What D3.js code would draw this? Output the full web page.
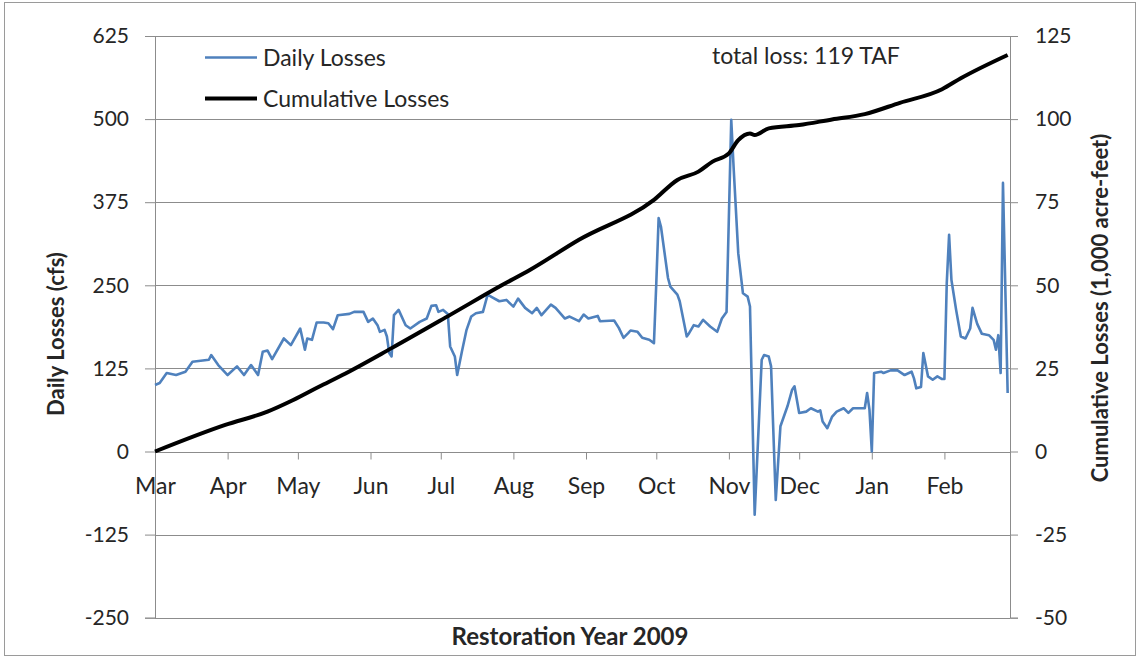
<!DOCTYPE html>
<html>
<head>
<meta charset="utf-8">
<script src="https://cdn.jsdelivr.net/npm/d3@7/dist/d3.min.js"></script>
<style>
  html, body { margin: 0; padding: 0; background: #fff; }
  svg { display: block; }
  text { font-family: Lato, "Open Sans", sans-serif; fill: #262626; }
</style>
</head>
<body>
<svg id="chart" width="1140" height="659"></svg>
<script>
// ---- Data ----
const monthLabels = ["Mar","Apr","May","Jun","Jul","Aug","Sep","Oct","Nov","Dec","Jan","Feb"];
const leftTicks = [-250, -125, 0, 125, 250, 375, 500, 625];
const rightTicks = [-50, -25, 0, 25, 50, 75, 100, 125];

// Daily losses (cfs)
const dailyDates = [
 "2009-03-01","2009-03-03","2009-03-06","2009-03-10","2009-03-14","2009-03-17","2009-03-24","2009-03-25","2009-03-28",
 "2009-04-01","2009-04-05","2009-04-08","2009-04-11","2009-04-14","2009-04-16","2009-04-18","2009-04-20","2009-04-25","2009-04-28",
 "2009-05-02","2009-05-04","2009-05-05","2009-05-07","2009-05-09","2009-05-12","2009-05-14","2009-05-16","2009-05-18","2009-05-23","2009-05-25","2009-05-29","2009-05-31",
 "2009-06-02","2009-06-04","2009-06-05","2009-06-07","2009-06-08","2009-06-09","2009-06-10","2009-06-11","2009-06-13","2009-06-16","2009-06-18","2009-06-22","2009-06-25","2009-06-27","2009-06-29","2009-06-30",
 "2009-07-02","2009-07-04","2009-07-05","2009-07-07","2009-07-08","2009-07-10","2009-07-12","2009-07-14","2009-07-16","2009-07-19","2009-07-21","2009-07-23","2009-07-26","2009-07-29",
 "2009-08-01","2009-08-03","2009-08-06","2009-08-09","2009-08-11","2009-08-13","2009-08-17","2009-08-19","2009-08-23","2009-08-25","2009-08-29","2009-08-31",
 "2009-09-02","2009-09-06","2009-09-07","2009-09-13","2009-09-15","2009-09-17","2009-09-19","2009-09-20","2009-09-23","2009-09-25","2009-09-28","2009-09-30",
 "2009-10-01","2009-10-02","2009-10-03","2009-10-06","2009-10-07","2009-10-10","2009-10-11","2009-10-14","2009-10-15","2009-10-17","2009-10-19","2009-10-21","2009-10-24","2009-10-27","2009-10-29","2009-10-31",
 "2009-11-02","2009-11-03","2009-11-05","2009-11-07","2009-11-09","2009-11-10","2009-11-12","2009-11-15","2009-11-16","2009-11-18","2009-11-19","2009-11-21","2009-11-23","2009-11-26","2009-11-28","2009-11-29",
 "2009-12-01","2009-12-04","2009-12-06","2009-12-09","2009-12-10","2009-12-11","2009-12-13","2009-12-15","2009-12-17","2009-12-20","2009-12-22","2009-12-24","2009-12-27","2009-12-29","2009-12-30","2009-12-31",
 "2010-01-01","2010-01-02","2010-01-05","2010-01-06","2010-01-09","2010-01-12","2010-01-15","2010-01-18","2010-01-19","2010-01-20","2010-01-22","2010-01-23","2010-01-25","2010-01-27","2010-01-29","2010-01-31",
 "2010-02-01","2010-02-02","2010-02-03","2010-02-04","2010-02-06","2010-02-08","2010-02-10","2010-02-12","2010-02-13","2010-02-15","2010-02-17","2010-02-20","2010-02-22","2010-02-23","2010-02-24","2010-02-25","2010-02-26","2010-02-28"
];
const dailyValues = [
 100,103,118,115,120,135,138,145,130,
 115,128,115,130,115,150,152,139,170,160,
 185,153,170,168,194,194,193,184,205,207,210,210,195,
 200,190,180,183,173,148,143,205,213,190,185,195,200,219,220,210,
 213,207,158,143,115,150,183,203,208,210,236,232,226,228,
 218,230,216,208,216,205,221,216,200,203,196,206,
 200,204,196,197,186,171,178,182,180,171,168,163,
 253,351,338,261,248,236,226,173,178,190,188,198,188,180,200,210,
 499,428,298,238,233,218,-95,138,145,143,128,-73,38,68,93,98,
 58,60,65,60,62,45,35,52,60,65,58,65,65,65,88,63,
 0,118,120,118,122,122,115,120,110,95,97,148,113,108,113,109,
 109,253,326,258,213,173,170,185,216,192,177,175,168,153,175,118,404,88
];

// Cumulative losses (1,000 acre-feet)
const cumDates = [
 "2009-03-01","2009-03-31","2009-04-18","2009-04-29","2009-05-10","2009-05-20","2009-06-10","2009-07-05","2009-07-27",
 "2009-08-08","2009-08-29","2009-09-30","2009-10-10","2009-10-19","2009-10-25","2009-11-01","2009-11-05","2009-11-10",
 "2009-11-12","2009-11-18","2009-12-01","2009-12-15","2009-12-29","2010-01-13","2010-01-31","2010-02-08","2010-02-28"
];
const cumValues = [
 0, 8.0, 12, 15.5, 19.5, 23, 31.1, 41.1, 50,
 54.6, 63.7, 75.7, 81.7, 84.2, 87.2, 89.7, 93.7, 95.7,
 95.2, 97.2, 98.2, 99.9, 101.5, 104.9, 109, 112.3, 119.3
];

// ---- Layout ----
const svg = d3.select("#chart");
const L = 155, R = 1010, T = 36, B = 617.7;
const parse = d3.timeParse("%Y-%m-%d");

const x = d3.scaleTime().domain([new Date(2009, 2, 1), new Date(2010, 2, 1)]).range([L, R]);
const yL = d3.scaleLinear().domain([-250, 625]).range([B, T]);
const yR = d3.scaleLinear().domain([-50, 125]).range([B, T]);

const grid = "#8c8c8c";

// outer frame
svg.append("rect").attr("x", 4.5).attr("y", 2.5).attr("width", 1131).attr("height", 653)
  .attr("fill", "none").attr("stroke", "#9a9a9a").attr("stroke-width", 1);

// gridlines
svg.append("g").selectAll("line").data(leftTicks).join("line")
  .attr("x1", L).attr("x2", R)
  .attr("y1", d => Math.round(yL(d)) + 0.5).attr("y2", d => Math.round(yL(d)) + 0.5)
  .attr("stroke", grid).attr("stroke-width", 1);

// left axis
const axL = d3.axisLeft(yL).tickValues(leftTicks).tickSize(10).tickPadding(16).tickFormat(d => String(d));
const gL = svg.append("g").attr("transform", `translate(${L},0)`).call(axL);
// right axis
const axR = d3.axisRight(yR).tickValues(rightTicks).tickSize(8).tickPadding(17).tickFormat(d => String(d));
const gR = svg.append("g").attr("transform", `translate(${R},0)`).call(axR);

[gL, gR].forEach(g => {
  g.select(".domain").attr("stroke", grid);
  g.selectAll(".tick line").attr("stroke", grid);
  g.selectAll(".tick text").attr("font-size", 21).attr("font-family", "Lato, sans-serif").attr("fill", "#262626");
});

// bottom (month) axis along zero line
const monthDates = d3.timeMonth.range(new Date(2009, 2, 1), new Date(2010, 2, 1));
const axB = d3.axisBottom(x).tickValues(monthDates).tickSize(7).tickPadding(18)
  .tickFormat((d, i) => monthLabels[i]);
const gB = svg.append("g").attr("transform", `translate(0,${Math.round(yL(0)) + 0.5})`).call(axB);
gB.select(".domain").attr("stroke", grid).attr("d", `M${L},0H${R}`);
gB.selectAll(".tick line").attr("stroke", grid);
gB.selectAll(".tick text").attr("font-size", 23).attr("font-family", "Lato, sans-serif").attr("fill", "#262626");

// daily losses line
const daily = dailyDates.map((d, i) => ({ date: parse(d), v: dailyValues[i] }));
svg.append("path").datum(daily)
  .attr("fill", "none").attr("stroke", "#4f81bd").attr("stroke-width", 2.6)
  .attr("stroke-linejoin", "round")
  .attr("d", d3.line().x(d => x(d.date)).y(d => yL(d.v)));

// cumulative line
const cum = cumDates.map((d, i) => ({ date: parse(d), v: cumValues[i] }));
svg.append("path").datum(cum)
  .attr("fill", "none").attr("stroke", "#000").attr("stroke-width", 4)
  .attr("stroke-linejoin", "round")
  .attr("d", d3.line().curve(d3.curveMonotoneX).x(d => x(d.date)).y(d => yR(d.v)));

// legend
const leg = svg.append("g");
leg.append("line").attr("x1", 205).attr("x2", 257).attr("y1", 57.5).attr("y2", 57.5)
  .attr("stroke", "#4f81bd").attr("stroke-width", 2.6);
leg.append("text").attr("x", 263).attr("y", 65.5).attr("font-size", 23).text("Daily Losses");
leg.append("line").attr("x1", 205).attr("x2", 257).attr("y1", 98.5).attr("y2", 98.5)
  .attr("stroke", "#000").attr("stroke-width", 4);
leg.append("text").attr("x", 263).attr("y", 106.5).attr("font-size", 23).text("Cumulative Losses");

// annotation
svg.append("text").attr("x", 712).attr("y", 64).attr("font-size", 23).text("total loss: 119 TAF");

// axis titles
svg.append("text").attr("transform", "translate(64,334) rotate(-90)")
  .attr("text-anchor", "middle").attr("font-size", 22).attr("font-weight", "bold")
  .attr("fill", "#000").text("Daily Losses (cfs)");
svg.append("text").attr("transform", "translate(1108,308) rotate(-90)")
  .attr("text-anchor", "middle").attr("font-size", 22).attr("font-weight", "bold")
  .attr("fill", "#000").text("Cumulative Losses (1,000 acre-feet)");
svg.append("text").attr("x", 570).attr("y", 645)
  .attr("text-anchor", "middle").attr("font-size", 24).attr("font-weight", "bold")
  .attr("fill", "#000").text("Restoration Year 2009");
</script>
</body>
</html>
